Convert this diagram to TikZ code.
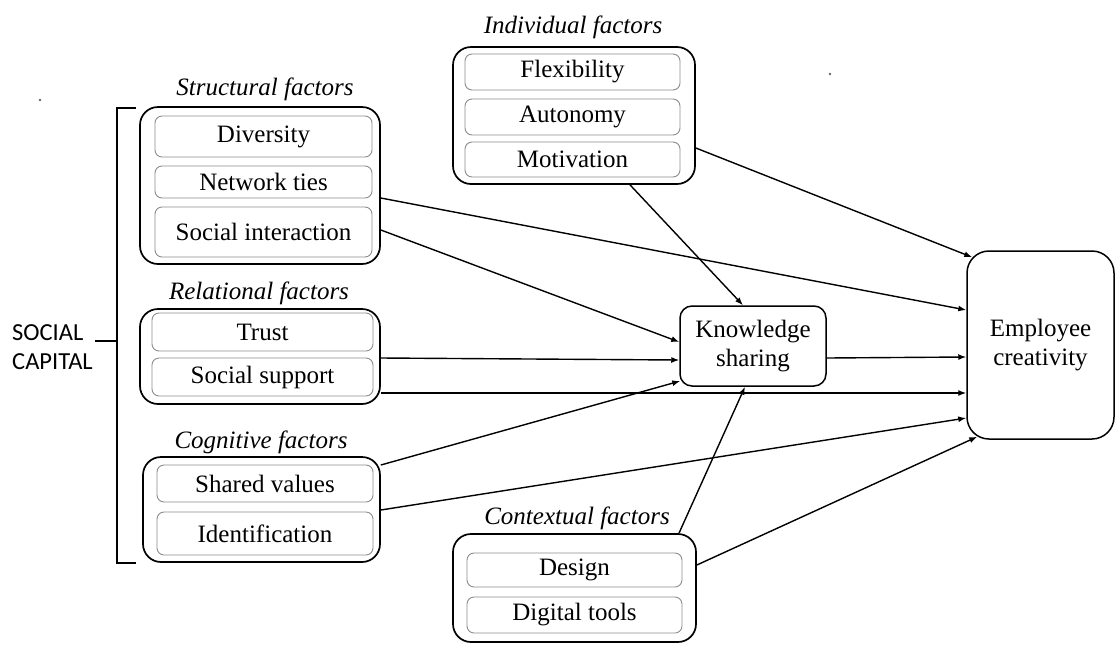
\documentclass[tikz,border=0pt]{standalone}
\usepackage{fontspec}
\setmainfont{Liberation Serif}
\newfontfamily\capfont{Carlito}
\usetikzlibrary{arrows.meta}
\begin{document}
\begin{tikzpicture}[x=1pt,y=-1pt,
  txt/.style={font=\fontsize{25}{29}\selectfont},
  grouptitle/.style={txt,font=\fontsize{25}{29}\selectfont\itshape,inner sep=0pt},
  groupbox/.style={draw=black,line width=1.7pt,rounded corners=18pt,inner sep=0pt},
  itembox/.style={draw=black!45,line width=0.9pt,rounded corners=7pt,inner sep=0pt,txt},
  mainbox/.style={draw=black,line width=1.5pt,inner sep=0pt,txt,align=center},
  link/.style={line width=1.4pt,-{Latex[length=8pt,width=6pt]}}]
\useasboundingbox (0,0) rectangle (1116,646);

% Structural factors
\node[grouptitle] (tstruct) at (265,89) {Structural factors};
\node[groupbox,minimum width=240,minimum height=157] (struct) at (260,185.5) {};
\node[itembox,minimum width=217,minimum height=41] (div) at (263.5,136.5) {Diversity};
\node[itembox,minimum width=217,minimum height=32] (nt) at (263.5,182) {Network ties};
\node[itembox,minimum width=217,minimum height=50] (si) at (263.5,232) {Social interaction};

% Relational factors
\node[grouptitle] (trel) at (259,293) {Relational factors};
\node[groupbox,minimum width=240,minimum height=95] (rel) at (260,356.5) {};
\node[itembox,minimum width=221,minimum height=38] (trust) at (262.5,332) {Trust};
\node[itembox,minimum width=221,minimum height=38] (ss) at (262.5,377) {Social support};

% Cognitive factors
\node[grouptitle] (tcog) at (261,442) {Cognitive factors};
\node[groupbox,minimum width=237,minimum height=105] (cog) at (261.5,509.5) {};
\node[itembox,minimum width=216,minimum height=37] (sv) at (265,483.5) {Shared values};
\node[itembox,minimum width=216,minimum height=43] (idf) at (265,533.5) {Identification};

% Individual factors
\node[grouptitle] (tind) at (573,27) {Individual factors};
\node[groupbox,minimum width=242,minimum height=137] (ind) at (574,115.5) {};
\node[itembox,minimum width=215,minimum height=36] (flex) at (572.5,72) {Flexibility};
\node[itembox,minimum width=215,minimum height=36] (aut) at (572.5,117) {Autonomy};
\node[itembox,minimum width=215,minimum height=35] (mot) at (572.5,159.5) {Motivation};

% Contextual factors
\node[grouptitle] (tctx) at (577,518) {Contextual factors};
\node[groupbox,minimum width=243,minimum height=108] (ctx) at (574.5,588) {};
\node[itembox,minimum width=215,minimum height=34] (des) at (574.5,570) {Design};
\node[itembox,minimum width=215,minimum height=36] (dig) at (574.5,615) {Digital tools};

% Mediator and outcome
\node[mainbox,rounded corners=12pt,minimum width=146,minimum height=80] (ks) at (753,346) {Knowledge\\sharing};
\node[mainbox,rounded corners=22pt,minimum width=147,minimum height=188] (ec) at (1040.5,345) {Employee\\creativity};

% Social capital bracket
\node[font=\capfont\fontsize{24.5}{29}\selectfont,align=left,anchor=west,inner sep=0pt] (sc) at (12,347.5) {SOCIAL\\CAPITAL};
\draw[line width=1.4pt] (136,108) -- (117,108) -- (117,563) -- (136,563);
\draw[line width=1.4pt] (95,341) -- (117,341);

% Specks
\fill[black!60] (40,100) circle (1.3);
\fill[black!60] (830,74) circle (1.3);

% Connectors
\draw[link] ([yshift=-12.5pt]struct.east) -- ([yshift=35pt]ec.west);
\draw[link] ([yshift=-44.5pt]struct.east) -- ([yshift=4pt]ks.west);
\draw[link] ([yshift=-1.5pt]rel.east) -- ([yshift=-14pt]ks.west);
\draw[link] ([yshift=-36.5pt]rel.east) -- ([yshift=-48pt]ec.west);
\draw[link] ([yshift=44.5pt]cog.east) -- ([xshift=1pt,yshift=-35pt]ks.west);
\draw[link] ([yshift=-0.5pt]cog.east) -- ([yshift=-73pt]ec.west);
\draw[link] ([yshift=-12pt]ks.east) -- ([yshift=-12pt]ec.west);
\draw[link] ([xshift=56pt]ind.south) -- ([xshift=-10pt]ks.north);
\draw[link] ([yshift=-32.5pt]ind.east) -- ([xshift=6pt,yshift=-7pt]ec.north west);
\draw[link] ([xshift=104.5pt]ctx.north) -- ([xshift=-8pt]ks.south);
\draw[link] ([yshift=23pt]ctx.east) -- ([xshift=11pt,yshift=3pt]ec.south west);
\end{tikzpicture}
\end{document}
